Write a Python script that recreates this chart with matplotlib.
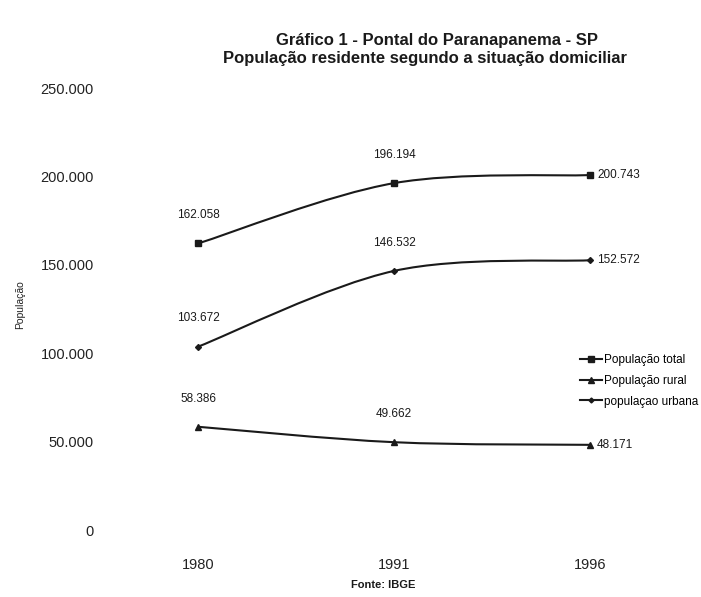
import matplotlib
matplotlib.use("Agg")
import matplotlib.pyplot as plt
from matplotlib.path import Path
from matplotlib.patches import PathPatch
from matplotlib.lines import Line2D

plt.rcParams['font.family'] = ['Liberation Sans', 'DejaVu Sans']

# Censos do IBGE - Pontal do Paranapanema
anos = ['1980', '1991', '1996']
pop_total = [162058, 196194, 200743]
pop_rural = [58386, 49662, 48171]
pop_urbana = [103672, 146532, 152572]

rotulos_y = ['0', '50.000', '100.000', '150.000', '200.000', '250.000']
valores_y = [0, 50000, 100000, 150000, 200000, 250000]


def fmt(v):
    return f'{v:,}'.replace(',', '.')


def curva_suave(ax, xs, ys, **kw):
    # linha suavizada estilo planilha (bezier com tangentes de Catmull-Rom)
    pts = list(zip(xs, ys))
    verts = [pts[0]]
    codes = [Path.MOVETO]
    n = len(pts)
    for i in range(n - 1):
        p0 = pts[i - 1] if i > 0 else pts[i]
        p1 = pts[i]
        p2 = pts[i + 1]
        p3 = pts[i + 2] if i + 2 < n else pts[i + 1]
        c1 = (p1[0] + (p2[0] - p0[0]) / 6, p1[1] + (p2[1] - p0[1]) / 6)
        c2 = (p2[0] - (p3[0] - p1[0]) / 6, p2[1] - (p3[1] - p1[1]) / 6)
        verts += [c1, c2, p2]
        codes += [Path.CURVE4] * 3
    ax.add_patch(PathPatch(Path(verts, codes), fill=False, **kw))


fig = plt.figure(figsize=(7.01, 5.97), dpi=100)
ax = fig.add_axes([130 / 701, 67 / 597, 530 / 701, 442 / 597])

x = list(range(len(anos)))
series = [
    (pop_total, 's', 4.5, 'População total'),
    (pop_rural, '^', 5, 'População rural'),
    (pop_urbana, 'D', 3, 'populaçao urbana'),
]

for vals, mk, ms, nome in series:
    curva_suave(ax, x, vals, edgecolor='#1a1a1a', linewidth=1.5)
    ax.plot(x, vals, linestyle='none', marker=mk, markersize=ms, color='#1a1a1a')
    for i, v in enumerate(vals):
        if i < 2:
            ax.annotate(fmt(v), (i, v), xytext=(0, 16), textcoords='offset points',
                        ha='center', va='bottom', fontsize=8.5, color='#1a1a1a')
        else:
            ax.annotate(fmt(v), (i, v), xytext=(5, 0), textcoords='offset points',
                        ha='left', va='center', fontsize=8.5, color='#1a1a1a')

ax.set_xlim(-68 / 196, 462 / 196)
ax.set_ylim(0, 250000)
ax.set_yticks(valores_y)
ax.set_yticklabels(rotulos_y, fontsize=10.5, color='#222222')
ax.set_xticks(x)
ax.set_xticklabels(anos, fontsize=10.5, color='#222222')
ax.tick_params(length=0)
ax.tick_params(axis='y', pad=26)
ax.tick_params(axis='x', pad=20)
for s in ax.spines.values():
    s.set_visible(False)

fig.text(20 / 701, 1 - 305 / 597, 'População', rotation=90, ha='center', va='center',
         fontsize=7.5, color='#222222')

fig.text(437 / 701, 1 - 40 / 597, 'Gráfico 1 - Pontal do Paranapanema - SP',
         ha='center', va='center', fontsize=12, fontweight='bold', color='#1a1a1a')
fig.text(425 / 701, 1 - 59 / 597, 'População residente segundo a situação domiciliar',
         ha='center', va='center', fontsize=12, fontweight='bold', color='#1a1a1a')
fig.text(383 / 701, 1 - 585 / 597, 'Fonte: IBGE', ha='center', va='center',
         fontsize=8, fontweight='bold', color='#1a1a1a')

handles = [Line2D([], [], color='#1a1a1a', lw=1.5, marker=mk, markersize=ms - 0.5)
           for _, mk, ms, _ in series]
ax.legend(handles, [s[3] for s in series], loc='upper left',
          bbox_to_anchor=(574 / 701, 1 - 348 / 597), bbox_transform=fig.transFigure,
          frameon=False, fontsize=8.5, handlelength=1.9, handletextpad=0.15,
          labelspacing=0.75, borderpad=0)

fig.savefig('out.png', dpi=100)
